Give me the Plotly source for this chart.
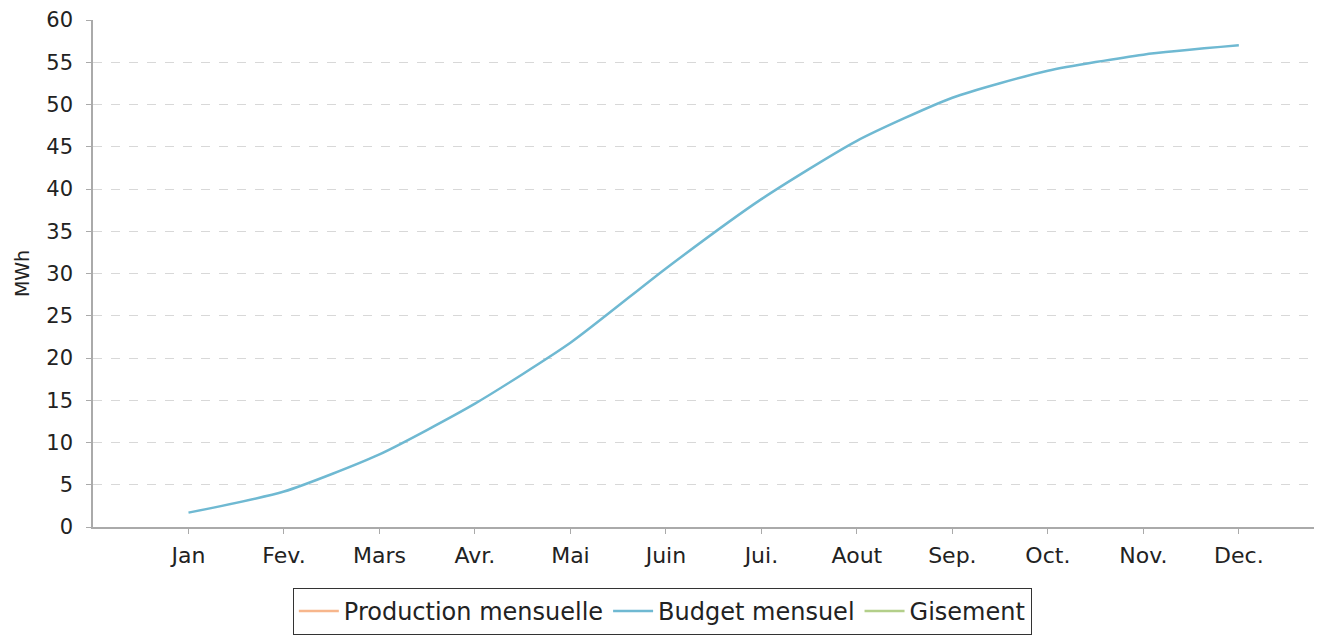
import plotly.graph_objects as go

months = ["Jan", "Fev.", "Mars", "Avr.", "Mai", "Juin", "Jui.", "Aout", "Sep.", "Oct.", "Nov.", "Dec."]
budget = [1.7, 4.2, 8.6, 14.6, 21.8, 30.6, 38.8, 45.7, 50.8, 54.0, 55.9, 57.0]
production = [None] * 12
gisement = [None] * 12
yticks = [0, 5, 10, 15, 20, 25, 30, 35, 40, 45, 50, 55, 60]

idx = list(range(len(months)))

fig = go.Figure()
fig.add_trace(go.Scatter(x=idx, y=production, mode="lines", name="Production mensuelle",
                         line=dict(color="#f7b68c", width=2.5)))
fig.add_trace(go.Scatter(x=idx, y=budget, mode="lines", name="Budget mensuel",
                         line=dict(color="#6fb9d2", width=2.5, shape="spline", smoothing=0.6)))
fig.add_trace(go.Scatter(x=idx, y=gisement, mode="lines", name="Gisement",
                         line=dict(color="#b3cf8a", width=2.5)))

font = "DejaVu Sans, Verdana, sans-serif"
fig.update_layout(
    width=1322, height=641,
    margin=dict(l=85, r=10, t=12, b=122),
    paper_bgcolor="white", plot_bgcolor="white",
    font=dict(family=font, size=22, color="#222"),
    showlegend=True,
    legend=dict(orientation="h", x=0.464, xanchor="center", y=-0.12, yanchor="top",
                bordercolor="#333", borderwidth=1, font=dict(size=24),
                itemwidth=40, tracegroupgap=0),
    xaxis=dict(range=[-1, 11.85], tickmode="array", tickvals=idx, ticktext=months,
               showgrid=False, zeroline=False, showline=True, linecolor="#aaa", linewidth=1.5,
               ticks="outside", ticklen=5, tickcolor="#aaa", fixedrange=True,
               ticklabelstandoff=3, automargin=False),
    yaxis=dict(range=[0, 60], tickmode="array", tickvals=yticks,
               showgrid=True, gridcolor="#d8d8d8", griddash="dash", gridwidth=1,
               zeroline=False, showline=True, linecolor="#aaa", linewidth=1.5,
               ticks="outside", ticklen=5, tickcolor="#aaa", ticklabelstandoff=9,
               tickfont=dict(size=21), automargin=False,
               title=dict(text="MWh", standoff=12, font=dict(size=19))),
)

fig.write_html("out.html")
